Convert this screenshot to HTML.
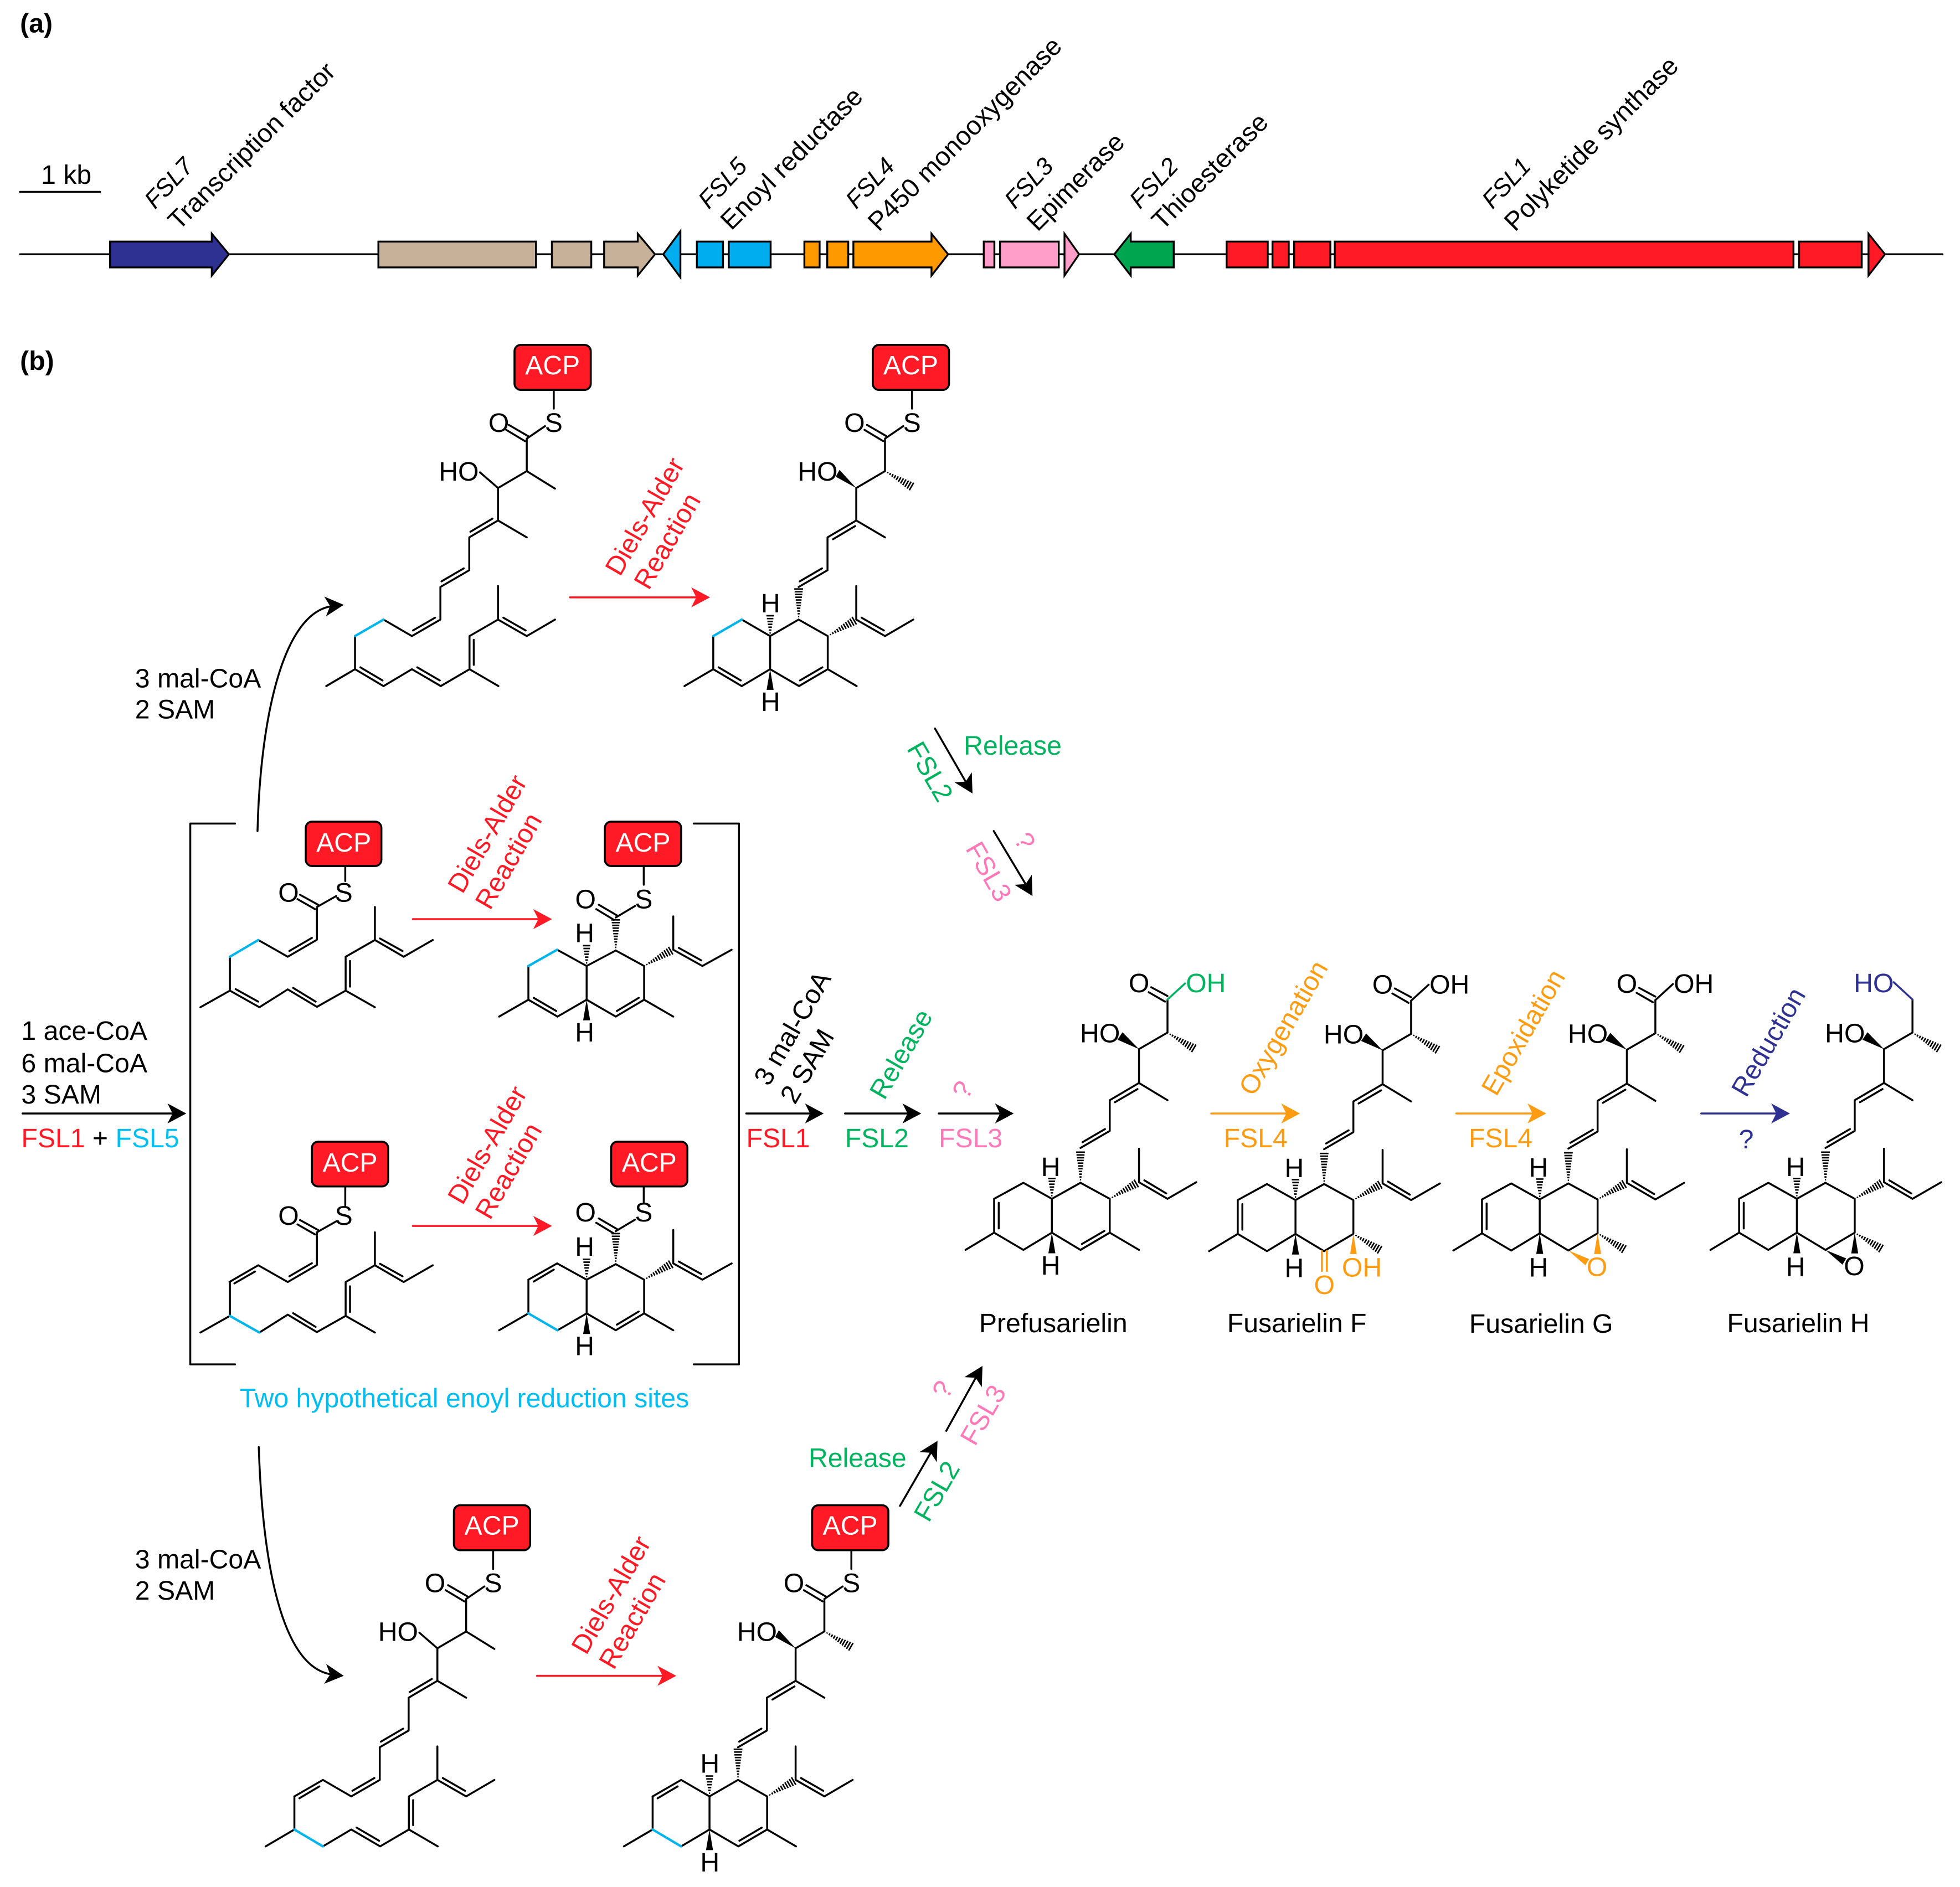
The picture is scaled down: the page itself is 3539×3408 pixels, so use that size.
<!DOCTYPE html>
<html><head><meta charset="utf-8"><style>
html,body{margin:0;padding:0;background:#fff}
svg{display:block}
text{font-family:"Liberation Sans",sans-serif;font-size:21.35px;fill:#000}
.m{text-anchor:middle}
.l text{font-size:21px}
.b{fill:none;stroke:#000;stroke-width:1.55;stroke-linecap:round;stroke-linejoin:round}
.c{fill:none;stroke:#00b4ec;stroke-width:1.9;stroke-linecap:round}
.g{stroke:#000;stroke-width:1.5}
.acp{fill:#ff1a25;stroke:#000;stroke-width:1.6}
.w{fill:#fff;text-anchor:middle}
.red{fill:#ff1a25}.grn{fill:#00b45f}.pnk{fill:#ff78b8}.org{fill:#ff9c12}.nav{fill:#2e3192}.cyn{fill:#00bdf2}
</style></head><body>
<svg xmlns="http://www.w3.org/2000/svg" width="3539" height="3408" viewBox="0 0 1568 1510">
<defs>
<path id="a" d="M0,0L-15,-8L-11,0L-15,8Z"/>
<path id="h" fill="none" stroke="#000" stroke-width="1.2" d="M2.5,-.5V.5M4.7,-.8V.8M6.9,-1.1V1.1M9.1,-1.4V1.4M11.3,-1.7V1.7M13.5,-2V2M15.7,-2.3V2.3M17.9,-2.6V2.6M20.1,-2.9V2.9M22.3,-3.2V3.2M24.5,-3.5V3.5"/>
<path id="hs" fill="none" stroke="#000" stroke-width="1.2" d="M2.5,-.5V.5M4.8,-1V1M7.1,-1.4V1.4M9.4,-1.8V1.8M11.7,-2.2V2.2M14,-2.6V2.6M16.3,-3V3"/>
<path id="wg" d="M0,0L16.5,-2.8L16.5,2.8Z"/>
<!-- open chain, linear form -->
<path id="chainA" class="b" d="M443,312V327M421.4,351L436,341M420,353L405,344M422.5,349L407,340M421.4,351V377L444,391M421.4,377L398.4,390.5L384,378M398.4,390.5V416.5L421.4,430M398.4,416.5L375.4,430V456.3L352.3,469.7V495.8L329.5,509L306.8,495.8M284,509V535.5L261,549M306.8,549L329.5,535.5L352.6,549L375.6,535.5L398.7,549M375.6,535.5V509L398.4,495.8V469M398.4,495.8L421.4,509L444,495.8M394,415L376.3,425.5M371,454.8L353.2,465.2M348,494.3L330.4,504.5M333.8,534L351.8,544.5M379,532V512M402.7,494.3L420.5,504.5"/>
<!-- cyclised product skeleton, common part -->
<path id="chainB" class="b" d="M443,312V327M421.4,351L436,341M420,353L405,344M422.5,349L407,340M421.4,351V377M421.4,377L398.4,390.5V416.5L421.4,430M398.4,416.5L375.4,430V456.3L352.3,469.7M352.3,495.8L329.5,509L306.8,495.8M284,509V535.5L261,549M306.8,549L329.5,535.5V509M329.5,535.5L352.6,549L375.6,535.5L398.7,549M375.6,535.5V509L352.3,495.8M398.4,495.8V469M398.4,495.8L421.4,509L444,495.8M397.5,421L379.8,431.5M371,454.8L353.2,465.2M353.4,544.5L371.3,534M402.7,494.3L420.5,504.5"/>
<g id="stB">
<use href="#h" transform="translate(421.4,377) rotate(30)"/>
<path d="M398.4,390.5L382,381.5L385,376Z"/>
<use href="#h" transform="translate(352.3,495.8) rotate(-90)"/>
<use href="#h" transform="translate(375.6,509) rotate(-30)"/>
<use href="#hs" transform="translate(329.5,509) rotate(-90)"/>
<use href="#wg" transform="translate(329.5,535.5) rotate(90)"/>
</g>
<!-- middle chain -->
<path id="chainE" class="b" d="M253.5,725.8L269,717M252,727.5L238,719.5M254.5,724L240,716M253.5,725.8V752L230.2,765.6L206.6,752.2M183.9,765.6V792.7L160.3,806M207.5,806L230.2,791.7L253.5,805.7L276.5,792.7L299.9,806M276.5,792.7V765.6L299.9,752.2V725.8M299.9,752.2L322.9,765.6L346.2,752.2M249.5,750.5L231.5,761M234.5,790.5L252.5,801.5M280,789.5V769M304,751L322,761"/>
<!-- middle cyclised -->
<path id="chainF" class="b" d="M492.6,734.2L508,725M491,736L477,727.5M493.6,732.5L479,724M492.6,760.6L469.3,773L445.7,760M422.7,773V800L399.3,813.5M446,813.5L469.3,800V773M469.3,800L492.6,813.5L515.3,800L538.6,813.5M515.3,800V773L492.6,760.6M538.6,760V733.3M538.6,760L561.9,773L585.3,760M493.5,809L511,798.5M543,758.5L561,768.5"/>
<g id="stF">
<use href="#h" transform="translate(492.6,760.6) rotate(-90)"/>
<use href="#h" transform="translate(515.3,773) rotate(-30)"/>
<use href="#hs" transform="translate(469.3,773) rotate(-90)"/>
<use href="#wg" transform="translate(469.3,800) rotate(90)"/>
</g>
<!-- right product skeleton -->
<g id="rc">
<path class="b" d="M934,799.8V826.3L911.2,839.5V866.6L934,880.4M911.2,866.6L887.8,880.4V905L864.4,918.6M910,871.5L892,882M884,903.5L866,914M864.4,946.5L841.5,959.3L818.7,946.5L795.3,959.3V986.4L772.4,1000.2M795.3,986.4L818.7,1000.2L841.5,986.4V959.3M841.5,986.4L864.4,1000.2L887.8,986.4V959.3L864.4,946.5M799,962.5V983M911.2,946V919.2M911.2,946L934,959.3L957,946M915.5,944.5L933,955"/>
<use href="#h" transform="translate(934,826.3) rotate(31)"/>
<path d="M911.2,839.5L894,832L898,826Z"/>
<use href="#h" transform="translate(864.4,946.5) rotate(-90)"/>
<use href="#h" transform="translate(887.8,959.3) rotate(-30)"/>
<use href="#hs" transform="translate(841.5,959.3) rotate(-90)"/>
<use href="#wg" transform="translate(841.5,986.4) rotate(90)"/>
</g>
</defs>
<rect width="1568" height="1510" fill="#fff"/>

<!-- (a) gene cluster -->
<text x="16" y="26" style="font-weight:bold">(a)</text>
<text x="16" y="296" style="font-weight:bold">(b)</text>
<text class="m" x="53" y="147">1 kb</text>
<path class="b" d="M16,153.5H80M16,203.5H1554"/>
<g class="g">
<path fill="#2e3192" d="M88,193.3H169.4V187L183.1,203.5L169.4,220.5V214H88Z"/>
<path fill="#c7b299" d="M302.7,193.3H428.8V214H302.7ZM441.5,193.3H473V214H441.5ZM483.3,193.3H510.2V187L524,203.5L510.2,220.5V214H483.3Z"/>
<path fill="#00aeef" d="M530.6,203.5L544.3,185V222ZM557.5,193.3H578.4V214H557.5ZM583,193.3H616.5V214H583Z"/>
<path fill="#ff9900" d="M643.5,193.3H655.7V214H643.5ZM661.8,193.3H678.6V214H661.8ZM682.7,193.3H745.2V187L758.5,203.5L745.2,220.5V214H682.7Z"/>
<path fill="#ff9ec8" d="M787,193.3H795.5V214H787ZM800,193.3H847V214H800ZM851.6,187L863.3,203.5L851.6,220.5Z"/>
<path fill="#00a64f" d="M891.4,203.5L904.6,187V193.3H939V214H904.6V220.5Z"/>
<path fill="#ff1a25" d="M981.3,193.3H1014.2V214H981.3ZM1018,193.3H1031V214H1018ZM1035.3,193.3H1064.3V214H1035.3ZM1067.8,193.3H1434.8V214H1067.8ZM1439.3,193.3H1489.4V214H1439.3ZM1494.8,187L1508,203.5L1494.8,220.5Z"/>
</g>
<g class="l" style="font-style:italic">
<text style="font-size:19.5px" transform="translate(124,168) rotate(-47)">FSL7</text>
<text style="font-size:19.5px" transform="translate(567,168) rotate(-47)">FSL5</text>
<text style="font-size:19.5px" transform="translate(685,168) rotate(-47)">FSL4</text>
<text style="font-size:19.5px" transform="translate(812,168) rotate(-47)">FSL3</text>
<text style="font-size:19.5px" transform="translate(912,168) rotate(-47)">FSL2</text>
<text style="font-size:19.5px" transform="translate(1194,168) rotate(-47)">FSL1</text>
</g>
<g class="l">
<text transform="translate(143,185) rotate(-45)">Transcription factor</text>
<text transform="translate(585,185) rotate(-45)">Enoyl reductase</text>
<text transform="translate(703,186) rotate(-45)">P450 monooxygenase</text>
<text transform="translate(830,186) rotate(-45)">Epimerase</text>
<text transform="translate(930,185) rotate(-45)">Thioesterase</text>
<text transform="translate(1212,186) rotate(-45)">Polyketide synthase</text>
</g>

<!-- left input -->
<text x="17" y="832">1 ace-CoA</text>
<text x="17" y="858">6 mal-CoA</text>
<text x="17" y="883">3 SAM</text>
<text x="17" y="918"><tspan class="red">FSL1</tspan> + <tspan class="cyn">FSL5</tspan></text>
<path class="b" d="M18,891H140"/><use href="#a" transform="translate(149,891)"/>
<path class="b" d="M188,659H152.2V1091.8H188M555,659H591.2V1091.8H555"/>
<text class="m cyn" x="371.5" y="1126">Two hypothetical enoyl reduction sites</text>

<!-- curved arrows -->
<path class="b" d="M206,665C208,580 225,490 266,485"/><use href="#a" transform="translate(275,484) rotate(-5)"/>
<path class="b" d="M207,1158C210,1250 225,1335 266,1340"/><use href="#a" transform="translate(275,1341) rotate(6)"/>
<text x="108" y="550">3 mal-CoA</text><text x="108" y="575">2 SAM</text>
<text x="108" y="1255">3 mal-CoA</text><text x="108" y="1280">2 SAM</text>

<!-- top pair -->
<rect class="acp" x="411.6" y="276" width="61" height="36" rx="5"/>
<text class="w" x="442" y="299.5">ACP</text>
<use href="#chainA"/>
<path class="b" d="M284,535.5L306.8,549M288.3,534L306,544.5"/>
<path class="c" d="M306.8,495.8L284,509"/>
<text class="m" x="399" y="345.5">O</text><text class="m" x="443" y="345.5">S</text><text class="m" x="367" y="384.5">HO</text>
<path class="b" style="stroke:#ff1a25" d="M456,478H560"/><use href="#a" fill="#ff1a25" transform="translate(568,478)"/>
<text class="red" transform="translate(496,462) rotate(-60)">Diels-Alder</text>
<text class="red" transform="translate(519,473) rotate(-60)">Reaction</text>

<g transform="translate(286.6,0)">
<rect class="acp" x="411.6" y="276" width="61" height="36" rx="5"/>
<text class="w" x="442" y="299.5">ACP</text>
<use href="#chainB"/><use href="#stB"/>
<path class="b" d="M288.3,534L306,544.5M284,535.5L306.8,549"/>
<path class="c" d="M306.8,495.8L284,509"/>
<text class="m" x="397" y="345.5">O</text><text class="m" x="443" y="345.5">S</text><text class="m" x="367.5" y="384.5">HO</text>
<text class="m" x="329.8" y="490">H</text><text class="m" x="329.8" y="569">H</text>
</g>

<!-- release top -->
<path class="b" d="M748,583L774,628"/><use href="#a" transform="translate(778,635) rotate(60)"/>
<path class="b" d="M795,665L822,710"/><use href="#a" transform="translate(826,717) rotate(60)"/>
<text class="grn" x="771" y="604">Release</text>
<text class="grn" transform="translate(725,599) rotate(60)">FSL2</text>
<text class="pnk" transform="translate(772,679) rotate(60)">FSL3</text>
<text class="pnk m" transform="translate(813.5,676.7) rotate(60)">?</text>

<!-- middle 4 -->
<rect class="acp" x="244.6" y="657.5" width="60.5" height="35.5" rx="5"/>
<text class="w" x="275" y="681.5">ACP</text>
<path class="b" d="M276.2,693V705"/>
<use href="#chainE"/>
<path class="b" d="M183.9,792.7L207.5,806M188.5,791.5L206.5,801.5"/>
<path class="c" d="M206.6,752.2L183.9,765.6"/>
<text class="m" x="230.8" y="721.5">O</text><text class="m" x="275" y="721.5">S</text>

<path class="b" style="stroke:#ff1a25" d="M330.3,735.5H434"/><use href="#a" fill="#ff1a25" transform="translate(441.6,735.5)"/>
<text class="red" transform="translate(370,716) rotate(-60)">Diels-Alder</text>
<text class="red" transform="translate(392,729) rotate(-60)">Reaction</text>

<rect class="acp" x="483.9" y="657.5" width="61" height="35.5" rx="5"/>
<text class="w" x="514.4" y="681.5">ACP</text>
<path class="b" d="M515,693V708"/>
<use href="#chainF"/><use href="#stF"/>
<path class="b" d="M422.7,800L446,813.5M427,798.5L445,809"/>
<path class="c" d="M445.7,760L422.7,773"/>
<text class="m" x="468.4" y="726.8">O</text><text class="m" x="515" y="726.8">S</text>
<text class="m" x="467.7" y="754">H</text><text class="m" x="467.7" y="833.5">H</text>

<rect class="acp" x="249.5" y="913.6" width="61" height="35.8" rx="5"/>
<text class="w" x="280" y="937.5">ACP</text>
<path class="b" d="M276.2,949.4V965"/>
<g transform="translate(0,260.3)"><use href="#chainE"/></g>
<path class="b" d="M206.6,1012.5L183.6,1025.8M204,1017.5L187.5,1027"/>
<path class="c" d="M183.9,1053L207.5,1066.3"/>
<text class="m" x="230.8" y="980">O</text><text class="m" x="275" y="980">S</text>

<path class="b" style="stroke:#ff1a25" d="M330.3,981H434"/><use href="#a" fill="#ff1a25" transform="translate(441.6,981)"/>
<text class="red" transform="translate(370,965) rotate(-60)">Diels-Alder</text>
<text class="red" transform="translate(392,977) rotate(-60)">Reaction</text>

<rect class="acp" x="488.9" y="913.6" width="61" height="35.8" rx="5"/>
<text class="w" x="519.4" y="937.5">ACP</text>
<path class="b" d="M515,949.4V962"/>
<g transform="translate(0,251)"><use href="#chainF"/><use href="#stF"/></g>
<path class="b" d="M445.7,1011L422.7,1024M443,1016L427,1025.5"/>
<path class="c" d="M422.7,1051L446,1064.5"/>
<text class="m" x="468.4" y="977.5">O</text><text class="m" x="515" y="977.5">S</text>
<text class="m" x="467.7" y="1005">H</text><text class="m" x="467.7" y="1084.5">H</text>

<!-- to right arrows -->
<path class="b" d="M597,891H652"/><use href="#a" transform="translate(659,891)"/>
<path class="b" d="M676,891H730"/><use href="#a" transform="translate(737,891)"/>
<path class="b" d="M751,891H804"/><use href="#a" transform="translate(811,891)"/>
<text transform="translate(615,870) rotate(-60)">3 mal-CoA</text>
<text transform="translate(636,884.5) rotate(-60)">2 SAM</text>
<text class="grn" transform="translate(707.5,881) rotate(-60)">Release</text>
<text class="pnk m" transform="translate(776.5,875.7) rotate(-60)">?</text>
<text class="red" x="597" y="918">FSL1</text>
<text class="grn" x="676" y="918">FSL2</text>
<text class="pnk" x="751" y="918">FSL3</text>

<!-- Prefusarielin -->
<use href="#rc"/>
<path class="b" d="M932,801.5L919,794M934,797L921,790M864.4,1000.2L887.8,986.4M865.5,995.5L883.5,985M887.8,986.4L911.2,1000.2"/>
<path class="b" style="stroke:#00b45f" d="M934,799.8L948,787"/>
<text class="m" x="911.2" y="794">O</text><text class="m grn" x="964.7" y="794">OH</text>
<text class="m" x="880" y="834">HO</text>
<text class="m" x="840.5" y="941">H</text><text class="m" x="840.5" y="1020">H</text>
<text class="m" x="842.6" y="1066">Prefusarielin</text>

<!-- Oxygenation -->
<path class="b" style="stroke:#ff9c12" d="M969,891H1032"/><use href="#a" fill="#ff9c12" transform="translate(1040,891)"/>
<text class="org" transform="translate(1003,878) rotate(-60)">Oxygenation</text>
<text class="org" x="979" y="918">FSL4</text>

<!-- Fusarielin F -->
<g transform="translate(194.9,1)">
<use href="#rc"/>
<path class="b" d="M932,801.5L919,794M934,797L921,790M934,799.8L948,787"/>
<use href="#h" transform="translate(887.8,986.4) rotate(31)"/>
<path d="M887.8,986.4L885.2,1002.5H890.4Z" fill="#ff9c12"/>
<path class="b" style="stroke:#ff9c12" d="M862.6,1000V1016M866.6,1000V1016"/>
<text class="m" x="911.2" y="794">O</text><text class="m" x="964.7" y="794">OH</text>
<text class="m" x="880" y="834">HO</text>
<text class="m" x="840.5" y="941">H</text><text class="m" x="840.5" y="1021">H</text>
<text class="m org" x="864.6" y="1034.5">O</text><text class="m org" x="894.6" y="1020.5">OH</text>
<text class="m" x="842.6" y="1065">Fusarielin F</text>
</g>

<!-- Epoxidation -->
<path class="b" style="stroke:#ff9c12" d="M1165,891H1229"/><use href="#a" fill="#ff9c12" transform="translate(1237,891)"/>
<text class="org" transform="translate(1197,878) rotate(-60)">Epoxidation</text>
<text class="org" x="1175" y="918">FSL4</text>

<!-- Fusarielin G -->
<g transform="translate(390.3,0.5)">
<use href="#rc"/>
<path class="b" d="M932,801.5L919,794M934,797L921,790M934,799.8L948,787"/>
<use href="#h" transform="translate(887.8,986.4) rotate(31)"/>
<path d="M887.8,986.4L885,1003H890.6Z" fill="#ff9c12"/>
<path d="M864.4,1000.2L878,1012L881,1007Z" fill="#ff9c12"/>
<text class="m" x="911.2" y="794">O</text><text class="m" x="964.7" y="794">OH</text>
<text class="m" x="880" y="834">HO</text>
<text class="m" x="840.5" y="941">H</text><text class="m" x="840.5" y="1021">H</text>
<text class="m org" x="887.3" y="1020.5">O</text>
<text class="m" x="842.6" y="1066">Fusarielin G</text>
</g>

<!-- Reduction -->
<path class="b" style="stroke:#2e3192" d="M1361,891H1424"/><use href="#a" fill="#2e3192" transform="translate(1432,891)"/>
<text class="nav" transform="translate(1397,879) rotate(-60)">Reduction</text>
<text class="nav m" x="1397" y="919">?</text>

<!-- Fusarielin H -->
<g transform="translate(596,0)">
<use href="#rc"/>
<use href="#h" transform="translate(887.8,986.4) rotate(31)"/>
<path d="M887.8,986.4L885,1003H890.6Z"/>
<path d="M864.4,1000.2L878,1012L881,1007Z"/>
<path class="b" style="stroke:#2e3192" d="M934,799.8L919,786"/>
<text class="m nav" x="903" y="794">HO</text>
<text class="m" x="880" y="834">HO</text>
<text class="m" x="840.5" y="941">H</text><text class="m" x="840.5" y="1021">H</text>
<text class="m" x="887.4" y="1020.5">O</text>
<text class="m" x="842.6" y="1066">Fusarielin H</text>
</g>

<!-- bottom release -->
<path class="b" d="M720,1205L746,1160"/><use href="#a" transform="translate(750,1153) rotate(-60)"/>
<path class="b" d="M757,1145L782,1100"/><use href="#a" transform="translate(786,1093) rotate(-60)"/>
<text class="grn m" x="686" y="1174">Release</text>
<text class="grn" transform="translate(743,1219) rotate(-60)">FSL2</text>
<text class="pnk" transform="translate(780,1158) rotate(-60)">FSL3</text>
<text class="pnk m" transform="translate(760.5,1115.5) rotate(-60)">?</text>

<!-- bottom pair -->
<g transform="translate(-48.5,928.5)">
<rect class="acp" x="411.6" y="276" width="61" height="36" rx="5"/>
<text class="w" x="442" y="299.5">ACP</text>
<use href="#chainA"/>
<path class="b" d="M306.8,495.8L284,509M304,501L288,510.5"/>
<text class="m" x="396.5" y="345.5">O</text><text class="m" x="443" y="345.5">S</text><text class="m" x="367" y="384.5">HO</text>
<path class="c" d="M284,535.5L306.8,549"/>
</g>
<path class="b" style="stroke:#ff1a25" d="M429.6,1341H533"/><use href="#a" fill="#ff1a25" transform="translate(541,1341)"/>
<text class="red" transform="translate(469,1325) rotate(-60)">Diels-Alder</text>
<text class="red" transform="translate(491,1337) rotate(-60)">Reaction</text>
<g transform="translate(238.1,928.5)">
<rect class="acp" x="411.6" y="276" width="61" height="36" rx="5"/>
<text class="w" x="442" y="299.5">ACP</text>
<use href="#chainB"/><use href="#stB"/>
<path class="b" d="M306.8,495.8L284,509M304,501L288,510.5"/>
<path class="c" d="M284,535.5L306.8,549"/>
<text class="m" x="397" y="345.5">O</text><text class="m" x="443" y="345.5">S</text><text class="m" x="367.5" y="384.5">HO</text>
<text class="m" x="329.8" y="490">H</text><text class="m" x="329.8" y="569">H</text>
</g>
</svg>
</body></html>
